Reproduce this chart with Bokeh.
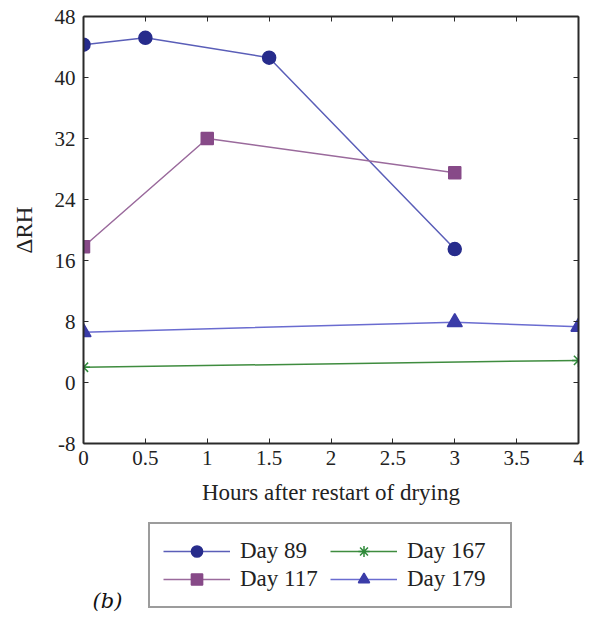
from bokeh.plotting import figure
from bokeh.layouts import column
from bokeh.models import (Legend, LegendItem, LinearAxis, FixedTicker, Label,
                          CustomJSTickFormatter)
from bokeh.embed import file_html
from bokeh.resources import INLINE

# ---- data ----
x_day89 = [0, 0.5, 1.5, 3]
y_day89 = [44.3, 45.2, 42.6, 17.5]
x_day117 = [0, 1, 3]
y_day117 = [17.8, 32.0, 27.5]
x_day167 = [0, 4]
y_day167 = [2.0, 2.9]
x_day179 = [0, 3, 4]
y_day179 = [6.6, 7.9, 7.3]

series_names = ["Day 89", "Day 117", "Day 167", "Day 179"]
x_ticks = [0, 0.5, 1, 1.5, 2, 2.5, 3, 3.5, 4]
y_ticks = [-8, 0, 8, 16, 24, 32, 40, 48]

SERIF = "Liberation Serif"
AX = "#2a2a2a"

p = figure(frame_width=495, frame_height=427, x_range=(0, 4), y_range=(-8, 48),
           output_backend="svg", toolbar_location=None,
           min_border_left=83, min_border_right=11, min_border_top=16,
           min_border_bottom=76)
p.outline_line_color = None
p.xgrid.visible = False
p.ygrid.visible = False

def style_axis(ax, ticks, labels=True):
    ax.ticker = FixedTicker(ticks=ticks)
    ax.minor_tick_line_color = None
    ax.major_tick_in = 5
    ax.major_tick_out = 0
    ax.axis_line_color = AX
    ax.axis_line_width = 2
    ax.major_tick_line_color = AX
    ax.major_tick_line_width = 1
    ax.major_label_text_font = SERIF
    ax.major_label_text_font_size = "21px"
    ax.major_label_text_color = "#222222"
    ax.axis_label_text_font = SERIF
    ax.axis_label_text_font_size = "23px"
    ax.axis_label_text_font_style = "normal"
    ax.axis_label_text_color = "#222222"
    if not labels:
        ax.formatter = CustomJSTickFormatter(code="return ''")
        ax.major_label_standoff = 0

style_axis(p.xaxis[0], x_ticks)
style_axis(p.yaxis[0], y_ticks)
p.xaxis[0].axis_label = "Hours after restart of drying"
p.yaxis[0].axis_label = "ΔRH"
p.yaxis[0].major_label_overrides = {-8: "-8"}
p.xaxis[0].major_label_standoff = 7
p.xaxis[0].axis_label_standoff = 12
p.yaxis[0].major_label_standoff = 8
p.yaxis[0].axis_label_standoff = 15

top_ax = LinearAxis()
style_axis(top_ax, x_ticks, labels=False)
p.add_layout(top_ax, "above")
right_ax = LinearAxis()
style_axis(right_ax, y_ticks, labels=False)
p.add_layout(right_ax, "right")

# ---- styles ----
styles = [
    dict(line="#5a5eb8", marker="circle", size=13, fill="#272c8c", edge="#272c8c"),
    dict(line="#9a6a9c", marker="square", size=12, fill="#874a88", edge="#874a88"),
    dict(line="#3f8c3f", marker="asterisk", size=13, fill=None, edge="#2f8a3a"),
    dict(line="#6a6cd0", marker="triangle", size=15, fill="#3b3ca8", edge="#3b3ca8"),
]
xs = [x_day89, x_day117, x_day167, x_day179]
ys = [y_day89, y_day117, y_day167, y_day179]

for x, y, st in zip(xs, ys, styles):
    p.line(x, y, line_color=st["line"], line_width=1.5)
    p.scatter(x, y, marker=st["marker"], size=st["size"],
              fill_color=st["fill"], line_color=st["edge"], line_width=1.5)

# ---- legend figure (its frame is aligned with the main frame: x 83..578) ----
p2 = figure(width=589, height=98, x_range=(83, 578), y_range=(0, 98),
            output_backend="svg", toolbar_location=None,
            x_axis_location=None, y_axis_location=None,
            min_border=0)
p2.outline_line_color = None
p2.xgrid.visible = False
p2.ygrid.visible = False

items = []
for name, x, y, st in zip(series_names, xs, ys, styles):
    # series drawn again here only to feed the legend; they fall outside this
    # figure's visible range and are clipped away
    lr = p2.line(x, y, line_color=st["line"], line_width=1.5)
    mr = p2.scatter(x, y, marker=st["marker"], size=st["size"],
                    fill_color=st["fill"], line_color=st["edge"], line_width=1.5)
    items.append(LegendItem(label=name, renderers=[lr, mr]))

legend = Legend(items=items, location=(65, 9), orientation="vertical", nrows=2)
legend.label_text_font = SERIF
legend.label_text_font_size = "23px"
legend.label_text_color = "#222222"
legend.glyph_width = 67
legend.glyph_height = 28
legend.label_standoff = 10
legend.label_width = 90
legend.label_height = 27
legend.spacing = 0
legend.padding = 13
legend.margin = 0
legend.border_line_color = "#3a3a3a"
legend.border_line_width = 2
legend.background_fill_alpha = 1
p2.add_layout(legend)

p2.add_layout(Label(x=92, y=17, text="(b)", text_font="DejaVu Serif",
                    text_font_style="italic", text_font_size="21px",
                    text_baseline="middle", text_color="#111111"))

layout = column(p, p2, spacing=0)
open("out.html", "w").write(file_html(layout, INLINE))
